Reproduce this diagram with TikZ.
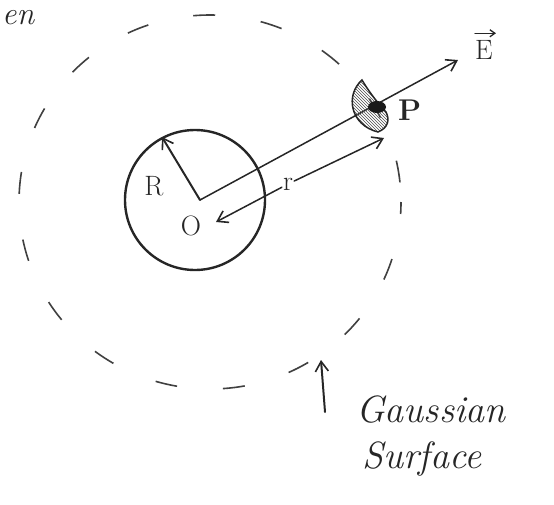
\documentclass[tikz,border=0pt]{standalone}
\usepackage{fontspec}
\usetikzlibrary{arrows.meta,patterns,calc}
\begin{document}
\begin{tikzpicture}[x=1pt,y=-1pt,
  ink/.style={line width=2pt, line cap=round, black!85},
  thin ink/.style={line width=1.5pt, line cap=round, black!85},
  barb/.style={-{Straight Barb[length=10pt,width=13pt,line width=1.6pt]}},
  small barb/.style={-{Straight Barb[length=5pt,width=7pt,line width=1.3pt]}},
  hand/.style={font=\fontsize{38}{44}\selectfont\itshape, black!85, inner sep=0pt},
  lbl/.style={font=\fontsize{28}{32}\selectfont, black!85, inner sep=0pt}]
\useasboundingbox (0,0) rectangle (554,504);
% Gaussian surface
\draw[line width=1.6pt, black!75, dash pattern=on 22pt off 46pt, dash phase=10pt]
  (210,202) ellipse [x radius=191, y radius=187];
% sphere
\node[circle, draw, line width=2.4pt, black!85, minimum size=140pt, inner sep=0pt] (sphere) at (195,200) {};
\coordinate (O) at (200,200);
\coordinate (Rtip) at (162,137);
\coordinate (Etip) at (458,60);
\coordinate (P) at (377,107);
\coordinate (rO) at (216,222);
\coordinate (rP) at (384,138);
% radius R
\draw[ink, barb] (O) -- (Rtip);
\node[lbl] (R) at (154,186) {R};
% centre O
\node[lbl] (Olbl) at (191,226) {O};
% field line E
\draw[thin ink, barb] (O) -- (Etip);
\node[lbl] (E) at (484,50) {E};
\coordinate (Ea) at ($(E.north west)+(0,-7)$);
\coordinate (Eb) at ($(E.north east)+(3,-7)$);
\draw[thin ink, small barb] (Ea) -- (Eb);
% patch at P
\draw[thin ink, pattern=north west lines, pattern color=black!70]
  (362,80) .. controls (345,95) and (350,125) .. (378,132)
  .. controls (388,128) and (390,120) .. (386,112)
  .. controls (375,100) and (368,90) .. cycle;
\fill[black!90] (P) ellipse [x radius=9, y radius=6];
\node[lbl, anchor=west, font=\fontsize{30}{34}\selectfont\bfseries] (Plbl) at (398,110) {P};
% distance r
\node[lbl, fill=white, inner sep=1pt] (r) at (288,184) {r};
\draw[thin ink, barb] (r) -- (rO);
\draw[thin ink, barb] (r) -- (rP);
% Gaussian surface label
\coordinate (gsTail) at (325,412);
\coordinate (gsTip) at (321,360);
\draw[ink, barb] (gsTail) -- (gsTip);
\node[hand, anchor=north west, align=left] (gs) at (356,396) {Gaussian\\[2pt]\hspace*{6pt}Surface};
% cut-off text at top left
\node[hand, anchor=west, font=\fontsize{32}{36}\selectfont\itshape] (en) at (2,18) {en};
\end{tikzpicture}
\end{document}
